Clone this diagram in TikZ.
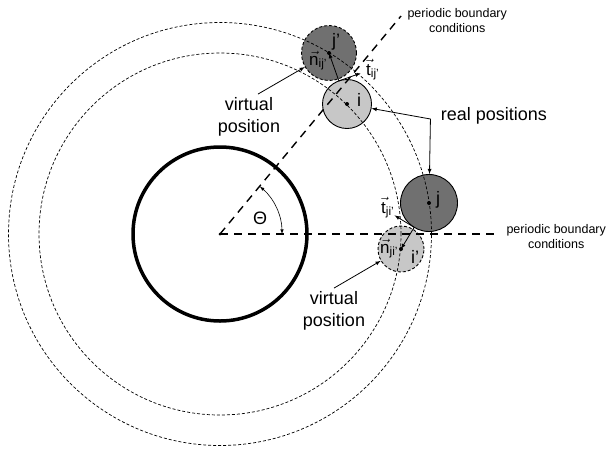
\documentclass[tikz,border=0pt]{standalone}
\usepackage{amsmath}
\usepackage{fontspec}
\setmainfont{Liberation Sans}
\usetikzlibrary{calc,arrows}

\begin{document}
\begin{tikzpicture}[x=1pt,y=-1pt]
  \tikzstyle{point}=[circle,fill=black,inner sep=0pt,minimum width=4pt,minimum height=4pt]
  \tikzstyle{orbit}=[line width=0.7pt,dash pattern=on 3pt off 2pt]
  \tikzstyle{boundary}=[line width=1.4pt,dash pattern=on 8pt off 6pt]
  \tikzstyle{real}=[circle,draw=black,line width=0.9pt,inner sep=0pt]
  \tikzstyle{virtual}=[circle,draw=black,line width=0.9pt,dash pattern=on 3pt off 2pt,inner sep=0pt]
  \tikzstyle{big}=[font=\fontsize{18}{22}\selectfont,align=center]
  \tikzstyle{small}=[font=\fontsize{12.5}{15}\selectfont,align=center]
  \tikzstyle{lbl}=[font=\fontsize{18}{22}\selectfont,anchor=base west,inner sep=0pt]
  \tikzstyle{vlbl}=[font=\fontsize{17}{20}\selectfont,anchor=base west,inner sep=0pt]
  \tikzstyle{arr}=[-latex,line width=0.8pt]
  \useasboundingbox (0,0) rectangle (610,448);
  \node (o) at (220,234) {};
  \node[virtual,fill=black!56,minimum size=55pt] (jp) at (329,53) {};
  \node[real,fill=black!22,minimum size=49pt] (i) at (347,104) {};
  \node[real,fill=black!56,minimum size=57pt] (j) at (429,203) {};
  \node[virtual,fill=black!22,minimum size=46pt] (ip) at (401,249) {};
  \draw[line width=3.5pt] (o.center) circle (87pt);
  \draw[orbit] (o.center) circle (181pt);
  \draw[orbit] (o.center) circle (211.5pt);
  \coordinate (b1) at (401,16);
  \coordinate (b2) at (498,234);
  \draw[boundary] (o.center) -- (b1);
  \draw[boundary] (o.center) -- (b2);
  \node[small,anchor=west] (pb1) at (404,21) {periodic boundary\\conditions};
  \node[small,anchor=west] (pb2) at (503,237) {periodic boundary\\conditions};
  \coordinate (a0) at (282,234);
  \draw[latex-latex,line width=0.6pt] (a0) arc[start angle=0,end angle=50,radius=62pt];
  \node[big] (th) at (260,218) {Θ};
  \coordinate (c1) at ($(i.center)!24.5pt!(jp.center)$);
  \coordinate (c2) at ($(j.center)!28.5pt!(ip.center)$);
  \coordinate (t1) at ($(c1)!23pt!-90:(jp.center)$);
  \coordinate (t2) at ($(c2)!23pt!-90:(ip.center)$);
  \draw[arr] (c1) -- (jp.center);
  \draw[arr] (c1) -- (t1);
  \draw[arr] (c2) -- (ip.center);
  \draw[arr] (c2) -- (t2);
  \foreach \p in {jp,i,j,ip} \node[point] at (\p.center) {};
  \node[point,minimum width=3pt,minimum height=3pt] at (o.center) {};
  \node[lbl] (ljp) at (332,46) {j'};
  \node[lbl] (li) at (357,106) {i};
  \node[lbl] (lj) at (436,204) {j};
  \node[lbl] (lip) at (411,263) {i'};
  \node[vlbl] (ln1) at (309,65) {$\vec{\text{n}}_{\text{ij'}}$};
  \node[vlbl] (lt1) at (366,75) {$\vec{\text{t}}_{\text{ij'}}$};
  \node[vlbl] (lt2) at (381,213) {$\vec{\text{t}}_{\text{ji'}}$};
  \node[vlbl] (ln2) at (380,253) {$\vec{\text{n}}_{\text{ji'}}$};
  \node[big] (vp1) at (249,117) {virtual\\position};
  \node[big] (vp2) at (334,311) {virtual\\position};
  \draw[arr] ($(vp1.north)+(9,0)$) -- (jp);
  \draw[arr] (vp2.north) -- (ip);
  \node[big] (rp) at (494,116) {real positions};
  \coordinate (rc) at ($(rp.west)+(-7,3)$);
  \draw[latex-latex,line width=0.8pt] (i) -- (rc) -- (j);
\end{tikzpicture}
\end{document}
